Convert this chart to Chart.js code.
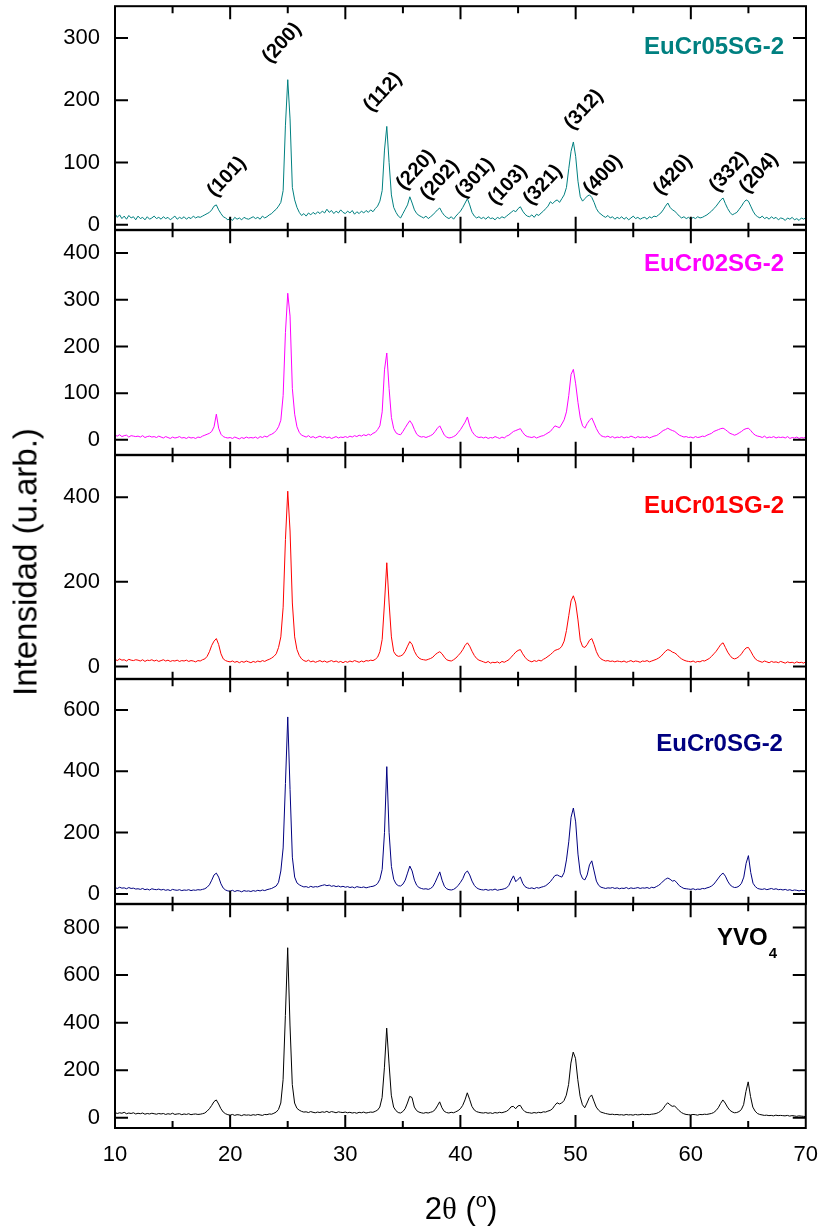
<!DOCTYPE html>
<html>
<head>
<meta charset="utf-8">
<title>XRD EuCr series</title>
<script src="https://cdn.jsdelivr.net/npm/chart.js@4.4.0/dist/chart.umd.min.js"></script>
<style>
  body { margin: 0; background: #fff; }
  #wrap { position: relative; width: 822px; height: 1229px; overflow: hidden;
          font-family: 'Liberation Sans', Arial, sans-serif; color: #000; }
  canvas { position: absolute; left: 0; }
  #ytitle { position: absolute; left: 25px; top: 562px; font-size: 33px; line-height: 1;
            white-space: nowrap; transform: translate(-50%, -50%) rotate(-90deg); }
  #xtitle { position: absolute; left: 461px; top: 1207px; font-size: 31px; line-height: 1;
            white-space: nowrap; transform: translate(-50%, -50%); }
  #xtitle .th { font-family: 'Liberation Serif', 'DejaVu Serif', serif; }
  #xtitle sup { font-size: 0.65em; }
</style>
</head>
<body>
<div id="wrap">
  <canvas id="p0"></canvas>
  <canvas id="p1"></canvas>
  <canvas id="p2"></canvas>
  <canvas id="p3"></canvas>
  <canvas id="p4"></canvas>
  <div id="ytitle">Intensidad (u.arb.)</div>
  <div id="xtitle">2<span class="th">θ</span> (<sup>o</sup>)</div>
</div>
<script>
// 2-theta sampling grid: 10.0 .. 70.0 every 0.2 degrees (301 points)
const twoTheta = Array.from({ length: 301 }, (_, i) => +(10 + i * 0.2).toFixed(1));

// intensities, one row = 2 degrees
const eucr05 = [
  18, 12, 16, 10, 14, 9, 15, 11, 13, 8,
  14, 10, 12, 8, 13, 9, 11, 14, 10, 12,
  9, 13, 10, 12, 8, 11, 14, 9, 12, 10,
  13, 9, 12, 10, 14, 11, 13, 12, 14, 16,
  18, 20, 24, 30, 32, 24, 18, 13, 11, 8,
  10, 7, 12, 9, 11, 8, 12, 10, 9, 11,
  13, 10, 12, 9, 14, 11, 13, 16, 18, 22,
  25, 30, 36, 55, 160, 233, 170, 60, 40, 28,
  20, 15, 18, 14, 19, 16, 20, 17, 21, 18,
  22, 19, 25, 20, 23, 18, 22, 19, 24, 20,
  18, 22, 19, 23, 17, 21, 18, 22, 19, 23,
  20, 24, 21, 26, 30, 38, 55, 120, 158, 100,
  48, 28, 20, 14, 11, 18, 25, 32, 45, 35,
  24, 18, 15, 13, 11, 14, 10, 13, 16, 20,
  24, 27, 20, 15, 12, 10, 13, 9, 14, 18,
  22, 28, 35, 42, 32, 20, 14, 11, 13, 10,
  12, 9, 13, 10, 11, 8, 12, 10, 13, 11,
  14, 17, 20, 23, 21, 26, 29, 22, 17, 14,
  13, 16, 12, 17, 15, 19, 22, 26, 30, 37,
  34, 38, 40, 36, 42, 48, 60, 90, 118, 133,
  110, 70, 45, 38, 42, 46, 48, 44, 36, 26,
  20, 17, 14, 12, 15, 11, 13, 9, 12, 10,
  13, 9, 12, 8, 11, 14, 10, 12, 9, 11,
  12, 9, 13, 11, 14, 13, 16, 19, 24, 30,
  35, 28, 24, 22, 18, 14, 11, 13, 10, 12,
  9, 12, 10, 13, 11, 12, 14, 16, 19, 22,
  26, 30, 35, 40, 43, 34, 26, 20, 16, 18,
  20, 25, 30, 36, 40, 38, 30, 22, 16, 13,
  11, 14, 10, 12, 9, 13, 10, 12, 8, 11,
  10, 7, 11, 9, 12, 8, 10, 7, 11, 9,
  12
];

const eucr02 = [
  10, 8, 11, 7, 9, 10, 6, 9, 8, 7,
  8, 6, 9, 5, 7, 8, 6, 7, 5, 8,
  6, 4, 7, 5, 3, 6, 4, 5, 7, 4,
  5, 3, 6, 4, 5, 3, 6, 5, 8, 10,
  12, 14, 18, 28, 55, 25, 12, 7, 5, 4,
  5, 3, 6, 4, 2, 5, 3, 6, 4, 5,
  4, 6, 3, 7, 5, 8, 6, 10, 12, 15,
  20, 28, 42, 95, 230, 314, 265, 110, 55, 28,
  16, 10, 8, 6, 9, 5, 7, 4, 6, 8,
  5, 7, 4, 6, 3, 5, 7, 4, 6, 5,
  7, 5, 8, 6, 9, 7, 10, 8, 11, 9,
  12, 10, 14, 16, 22, 30, 60, 150, 186, 110,
  48, 24, 15, 12, 11, 18, 26, 34, 41, 34,
  22, 12, 8, 6, 7, 5, 7, 9, 12, 18,
  25, 30, 20, 10, 6, 4, 5, 7, 10, 16,
  22, 30, 38, 49, 30, 18, 11, 7, 5, 6,
  4, 6, 3, 5, 4, 7, 5, 3, 6, 4,
  8, 10, 14, 18, 20, 22, 24, 16, 10, 7,
  6, 5, 7, 4, 6, 8, 9, 12, 15, 18,
  24, 30, 28, 26, 34, 43, 60, 95, 140, 151,
  120, 80, 47, 30, 25, 35, 42, 47, 36, 24,
  15, 9, 7, 6, 8, 5, 7, 4, 6, 5,
  7, 4, 6, 5, 8, 6, 4, 7, 5, 6,
  5, 7, 4, 6, 8, 9, 12, 16, 20, 22,
  25, 22, 20, 18, 14, 10, 8, 6, 7, 5,
  6, 4, 7, 5, 6, 8, 7, 10, 12, 14,
  18, 20, 22, 24, 25, 22, 18, 14, 12, 10,
  12, 15, 18, 22, 24, 25, 20, 14, 10, 8,
  7, 5, 8, 4, 6, 5, 7, 4, 6, 5,
  6, 4, 7, 3, 5, 4, 6, 3, 5, 4,
  6
];

const eucr01 = [
  17, 14, 18, 15, 16, 13, 17, 15, 14, 16,
  15, 13, 16, 12, 15, 14, 16, 13, 15, 12,
  14, 16, 13, 15, 12, 14, 13, 15, 12, 14,
  13, 15, 12, 14, 13, 11, 14, 13, 16, 18,
  24, 35, 50, 60, 66, 52, 30, 18, 14, 12,
  11, 13, 10, 12, 9, 12, 10, 13, 11, 9,
  12, 10, 13, 11, 14, 12, 15, 17, 20, 24,
  30, 45, 70, 140, 300, 414, 320, 150, 70, 40,
  26, 18, 14, 12, 15, 11, 13, 10, 12, 14,
  11, 13, 10, 12, 14, 11, 13, 10, 12, 9,
  12, 10, 13, 11, 14, 12, 10, 13, 11, 14,
  13, 15, 14, 17, 22, 35, 64, 150, 245, 150,
  70, 35, 27, 24, 25, 28, 36, 48, 59, 52,
  36, 26, 20, 17, 16, 15, 17, 19, 22, 28,
  32, 35, 30, 22, 16, 14, 13, 16, 20, 26,
  32, 40, 50, 56, 48, 36, 26, 19, 15, 13,
  11, 9, 12, 8, 10, 9, 11, 8, 12, 10,
  13, 16, 22, 28, 34, 38, 40, 30, 22, 16,
  13, 11, 14, 12, 15, 13, 17, 20, 24, 28,
  33, 38, 40, 42, 48, 60, 85, 120, 155, 167,
  150, 110, 62, 47, 45, 52, 62, 66, 52, 35,
  24, 18, 15, 13, 14, 12, 13, 11, 13, 12,
  11, 13, 10, 12, 14, 11, 13, 12, 10, 13,
  12, 14, 11, 13, 15, 17, 20, 24, 30, 36,
  40, 38, 34, 32, 28, 22, 18, 15, 13, 12,
  11, 13, 10, 12, 11, 14, 13, 16, 19, 24,
  30, 36, 44, 52, 56, 45, 34, 26, 20, 18,
  20, 24, 30, 38, 44, 45, 36, 26, 18, 14,
  12, 10, 13, 11, 9, 12, 10, 11, 9, 12,
  10, 8, 11, 9, 10, 8, 11, 9, 10, 8,
  12
];

const eucr0 = [
  21, 18, 22, 19, 20, 17, 21, 18, 19, 16,
  17, 15, 18, 14, 16, 13, 17, 15, 14, 16,
  13, 15, 12, 14, 11, 15, 13, 12, 14, 11,
  13, 12, 14, 11, 13, 12, 14, 13, 15, 17,
  22, 30, 45, 62, 68, 55, 33, 19, 13, 10,
  9, 12, 8, 11, 10, 7, 11, 9, 10, 8,
  11, 9, 12, 10, 13, 11, 14, 16, 18, 22,
  26, 38, 75, 150, 360, 577, 340, 120, 55, 36,
  30, 26, 23, 24, 21, 25, 22, 24, 23, 26,
  28, 30, 27, 29, 25, 27, 24, 26, 23, 25,
  22, 24, 21, 23, 20, 24, 22, 21, 23, 20,
  22, 24, 25, 28, 34, 48, 80, 200, 415, 200,
  90, 48, 33, 27, 26, 32, 45, 68, 91, 75,
  45, 28, 21, 18, 16, 17, 15, 18, 24, 38,
  55, 72, 45, 25, 17, 14, 13, 15, 20, 28,
  38, 50, 68, 75, 62, 42, 28, 20, 16, 14,
  13, 15, 12, 14, 13, 16, 12, 14, 15, 17,
  20, 28, 45, 59, 40, 48, 55, 35, 24, 20,
  18, 20, 17, 21, 19, 22, 24, 27, 33, 40,
  50, 60, 62, 58, 55, 70, 111, 170, 250, 280,
  235, 130, 68, 50, 46, 62, 95, 108, 75, 42,
  28, 22, 20, 18, 20, 19, 21, 18, 20, 17,
  19, 18, 21, 17, 20, 18, 19, 21, 18, 20,
  19, 21, 18, 22, 20, 24, 28, 34, 42, 48,
  52, 48, 42, 44, 36, 27, 22, 18, 17, 16,
  15, 17, 14, 16, 15, 18, 17, 20, 22, 26,
  32, 42, 52, 62, 68, 58, 42, 30, 24, 21,
  22, 26, 35, 55, 100, 125, 70, 35, 24, 18,
  16, 15, 17, 14, 16, 18, 15, 17, 14, 15,
  13, 15, 12, 14, 11, 13, 12, 10, 12, 11,
  10
];

const yvo4 = [
  22, 18, 21, 19, 23, 17, 20, 18, 21, 16,
  19, 17, 20, 15, 18, 16, 19, 17, 15, 18,
  16, 18, 14, 17, 15, 19, 14, 16, 17, 13,
  16, 14, 17, 13, 15, 16, 14, 15, 17, 20,
  28, 38, 52, 68, 75, 58, 38, 24, 17, 13,
  11, 14, 10, 13, 12, 9, 13, 11, 12, 10,
  13, 11, 14, 12, 10, 14, 13, 16, 15, 19,
  24, 35, 62, 160, 430, 715, 390, 140, 62, 40,
  32, 27, 24, 25, 22, 26, 23, 21, 24, 22,
  25, 23, 27, 22, 26, 24, 21, 25, 23, 22,
  24, 21, 23, 20, 22, 19, 23, 21, 24, 20,
  22, 24, 23, 27, 32, 45, 85, 210, 377, 230,
  95, 45, 30, 22, 20, 26, 38, 62, 90, 85,
  45, 30, 24, 21, 19, 22, 20, 23, 26, 34,
  50, 67, 42, 27, 22, 20, 23, 21, 25, 30,
  38, 52, 75, 105, 78, 48, 33, 26, 23, 21,
  20, 22, 19, 21, 18, 22, 20, 23, 21, 24,
  27, 34, 46, 48, 38, 50, 52, 36, 26, 22,
  21, 19, 22, 20, 23, 21, 25, 24, 28, 31,
  38, 52, 63, 58, 62, 72, 95, 140, 230, 276,
  250, 160, 90, 55, 42, 62, 85, 96, 70, 45,
  32, 24, 21, 18, 16, 14, 15, 13, 14, 12,
  13, 11, 14, 12, 13, 11, 14, 12, 13, 15,
  13, 14, 13, 15, 16, 18, 22, 28, 38, 52,
  63, 55, 48, 50, 40, 30, 22, 17, 14, 13,
  12, 14, 13, 11, 14, 13, 15, 14, 16, 18,
  22, 30, 42, 60, 75, 62, 45, 32, 25, 21,
  22, 26, 34, 55, 110, 151, 90, 45, 28, 18,
  14, 12, 10, 11, 9, 10, 8, 11, 9, 10,
  9, 8, 10, 7, 9, 8, 6, 8, 7, 6,
  5
];

// panels, top to bottom
const sampleNames = ['EuCr05SG-2', 'EuCr02SG-2', 'EuCr01SG-2', 'EuCr0SG-2', 'YVO'];
const sampleSubs = ['', '', '', '', '4'];
const sampleColors = ['#008080', '#ff00ff', '#ff0000', '#000080', '#000000'];
const sampleData = [eucr05, eucr02, eucr01, eucr0, yvo4];
const yMin = [-8, -32, -29, -32, -43];
const yMax = [351, 449, 499, 700, 898];
const yTickValues = [
  [0, 100, 200, 300],
  [0, 100, 200, 300, 400],
  [0, 200, 400],
  [0, 200, 400, 600],
  [0, 200, 400, 600, 800]
];
const nameAtX = [68.1, 68.1, 68.1, 68.0, 67.5];
const nameAtY = [285, 375, 378, 486, 755];

const xTickLabels = [10, 20, 30, 40, 50, 60, 70];
const xTickMarks = [15, 20, 25, 30, 35, 40, 45, 50, 55, 60, 65];

// Miller indices over the top pattern
const millerLabels = ['(101)', '(200)', '(112)', '(220)', '(202)', '(301)', '(103)',
                      '(321)', '(312)', '(400)', '(420)', '(332)', '(204)'];
const millerX = [19.72, 24.5, 33.26, 36.13, 38.21, 41.25, 44.11, 47.15, 50.71, 52.36, 58.44, 63.3, 65.9];
const millerY = [77, 292, 213, 88, 72, 75, 64, 64, 185, 80, 80, 85, 83];

const FONT = "'Liberation Sans', Arial, sans-serif";
Chart.defaults.font.family = FONT;
Chart.defaults.color = '#000';

// pixel box of each plot area on the page
const plotLeft = 115, plotRight = 806;
const panelTop = [6, 230, 455, 679, 904];
const panelBottom = [230, 455, 679, 904, 1128];

const framePlugin = {
  id: 'frame',
  afterDatasetsDraw(chart, args, opts) {
    const { ctx, chartArea: a } = chart;
    const x = chart.scales.x, y = chart.scales.y;
    ctx.save();
    ctx.strokeStyle = '#000';
    ctx.lineWidth = 2;
    ctx.strokeRect(a.left, a.top, a.right - a.left, a.bottom - a.top);

    // inward ticks on all four sides
    ctx.beginPath();
    xTickMarks.forEach(v => {
      const px = x.getPixelForValue(v);
      const len = v % 10 === 0 ? 13 : 7;
      ctx.moveTo(px, a.top); ctx.lineTo(px, a.top + len);
      ctx.moveTo(px, a.bottom); ctx.lineTo(px, a.bottom - len);
    });
    y.ticks.forEach(t => {
      const py = y.getPixelForValue(t.value);
      ctx.moveTo(a.left, py); ctx.lineTo(a.left + 13, py);
      ctx.moveTo(a.right, py); ctx.lineTo(a.right - 13, py);
    });
    ctx.stroke();

    // sample name
    const rx = x.getPixelForValue(opts.nameX);
    const ry = y.getPixelForValue(opts.nameY);
    ctx.fillStyle = opts.color;
    ctx.textAlign = 'right';
    if (opts.sub) {
      ctx.font = 'bold 15px ' + FONT;
      const sw = ctx.measureText(opts.sub).width;
      ctx.textBaseline = 'alphabetic';
      ctx.fillText(opts.sub, rx, ry + 20);
      ctx.font = 'bold 24px ' + FONT;
      ctx.textBaseline = 'middle';
      ctx.fillText(opts.name, rx - sw - 1, ry);
    } else {
      ctx.font = 'bold 24px ' + FONT;
      ctx.textBaseline = 'middle';
      ctx.fillText(opts.name, rx, ry);
    }

    if (opts.miller) {
      ctx.fillStyle = '#000';
      ctx.font = 'bold 20px ' + FONT;
      ctx.textAlign = 'center';
      ctx.textBaseline = 'middle';
      millerLabels.forEach((lbl, k) => {
        ctx.save();
        ctx.translate(x.getPixelForValue(millerX[k]), y.getPixelForValue(millerY[k]));
        ctx.rotate(-47 * Math.PI / 180);
        ctx.fillText(lbl, 0, 0);
        ctx.restore();
      });
    }
    ctx.restore();
  }
};

function buildPanel(i, geom) {
  const last = i === 4;
  const canvas = document.getElementById('p' + i);
  canvas.width = geom.w;
  canvas.height = geom.h;
  canvas.style.top = geom.top + 'px';
  canvas.style.left = geom.left + 'px';

  return new Chart(canvas, {
    type: 'line',
    data: {
      datasets: [{
        label: sampleNames[i] + sampleSubs[i],
        data: twoTheta.map((t, k) => ({ x: t, y: sampleData[i][k] })),
        borderColor: sampleColors[i],
        borderWidth: 1,
        pointRadius: 0,
        tension: 0,
        fill: false
      }]
    },
    options: {
      responsive: false,
      maintainAspectRatio: false,
      animation: false,
      events: [],
      layout: { padding: { top: 16, bottom: last ? 0 : 16, left: 0, right: 16 } },
      plugins: {
        legend: { display: false },
        tooltip: { enabled: false },
        frame: {
          name: sampleNames[i], sub: sampleSubs[i], color: sampleColors[i],
          nameX: nameAtX[i], nameY: nameAtY[i], miller: i === 0
        }
      },
      scales: {
        x: {
          type: 'linear', min: 10, max: 70, bounds: 'data',
          display: last,
          grid: { display: false, drawTicks: false },
          border: { display: false },
          ticks: { font: { size: 22 }, padding: 14, maxRotation: 0, autoSkip: false, color: '#000' },
          afterBuildTicks: s => { s.ticks = xTickLabels.map(v => ({ value: v })); },
          afterFit: s => { if (last) s.height = 100; }
        },
        y: {
          type: 'linear', min: yMin[i], max: yMax[i], bounds: 'data',
          grid: { display: false, drawTicks: false },
          border: { display: false },
          ticks: { font: { size: 22 }, padding: 15, color: '#000' },
          afterBuildTicks: s => { s.ticks = yTickValues[i].map(v => ({ value: v })); },
          afterFit: s => { s.width = 115; }
        }
      }
    },
    plugins: [framePlugin]
  });
}

// first pass measures the chart area offsets, second pass places it exactly
for (let i = 0; i < 5; i++) {
  const plotH = panelBottom[i] - panelTop[i];
  const plotW = plotRight - plotLeft;
  let geom = { top: 0, left: 0, w: 822, h: plotH + 32 + (i === 4 ? 100 : 0) };
  const chart = buildPanel(i, geom);
  const a = chart.chartArea;
  const offTop = a.top, offBottom = geom.h - a.bottom;
  const offLeft = a.left, offRight = geom.w - a.right;
  chart.destroy();
  geom = {
    top: panelTop[i] - offTop,
    left: plotLeft - offLeft,
    w: plotW + offLeft + offRight,
    h: plotH + offTop + offBottom
  };
  buildPanel(i, geom);
}
</script>
</body>
</html>
